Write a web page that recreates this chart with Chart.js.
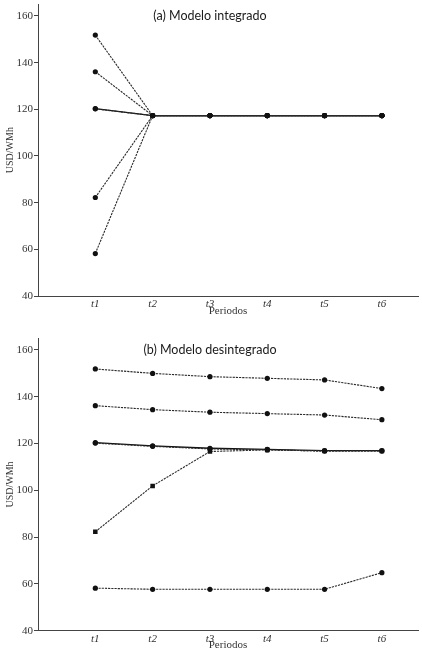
<!DOCTYPE html>
<html><head><meta charset="utf-8">
<script src="https://cdn.jsdelivr.net/npm/chart.js@4.4.1/dist/chart.umd.min.js"></script>
<style>
html,body{margin:0;padding:0;overflow:hidden;background:#fff;width:422px;height:650px}
canvas{position:absolute;left:0}
#ca{top:0;width:422px;height:318px}
#cb{top:325px;width:422px;height:327px}
</style></head>
<body>
<canvas id="ca" width="422" height="318"></canvas>
<canvas id="cb" width="422" height="327"></canvas>
<script>
// ---- data ----
const periods = ['t1','t2','t3','t4','t5','t6'];
const yTicks = [40,60,80,100,120,140,160];
const titleA = '(a) Modelo integrado';
const titleB = '(b) Modelo desintegrado';
const xTitle = 'Periodos';
const yTitle = 'USD/WMh';

// panel (a) Modelo integrado
const a1 = [151.8,117.3,117.3,117.3,117.3,117.3];
const a2 = [136.1,117.3,117.3,117.3,117.3,117.3];
const a3 = [120.3,117.3,117.3,117.3,117.3,117.3];
const a4 = [120.2,117.3,117.3,117.3,117.3,117.3];
const a5 = [82.2,117.3,117.3,117.3,117.3,117.3];
const a6 = [58.2,117.3,117.3,117.3,117.3,117.3];

// panel (b) Modelo desintegrado
const b1 = [151.9,150.0,148.6,147.9,147.2,143.5];
const b2 = [136.2,134.5,133.4,132.8,132.2,130.2];
const b3 = [120.4,119.0,118.0,117.5,117.0,117.0];
const b4 = [120.2,118.8,117.7,117.3,116.8,116.8];
const b5 = [82.3,101.9,116.6,117.3,116.8,116.8];
const b6 = [58.2,57.7,57.7,57.7,57.7,64.8];

// ---- styles ----
const DASH = {borderColor:'#2a2a2a', borderWidth:1.1, borderDash:[2.2,1], pointStyle:'circle', pointRadius:2.6};
const SOLID = {borderColor:'#111', borderWidth:1.4, borderDash:[], pointStyle:'circle', pointRadius:2.6};
const SQUARE = {borderColor:'#2a2a2a', borderWidth:1.1, borderDash:[2.2,1], pointStyle:'rect', pointRadius:3.2};

const seriesA = [[a1,DASH],[a2,DASH],[a4,DASH],[a5,DASH],[a6,DASH],[a3,SOLID]];
const seriesB = [[b1,DASH],[b2,DASH],[b4,DASH],[b5,SQUARE],[b6,DASH],[b3,SOLID]];

const panelTitle = {
  id:'panelTitle',
  afterDatasetsDraw(chart, args, opts){
    const {ctx, scales:{x,y}} = chart;
    ctx.save();
    ctx.font = '12.5px Lato';
    ctx.fillStyle = '#1a1a1a';
    ctx.textAlign = 'center';
    ctx.textBaseline = 'middle';
    ctx.fillText(opts.text, x.getPixelForValue(opts.xv), y.getPixelForValue(opts.yv));
    ctx.restore();
  }
};

function build(id, series, title, xh, padTop){
  const datasets = series.map(([vals, st]) => ({
    data: vals.map((v,i)=>({x:i+1, y:v})),
    borderColor: st.borderColor,
    borderWidth: st.borderWidth,
    borderDash: st.borderDash,
    pointStyle: st.pointStyle,
    pointRadius: st.pointRadius,
    pointBackgroundColor:'#111',
    pointBorderColor:'#111',
    pointBorderWidth:0,
    fill:false,
    tension:0
  }));
  return new Chart(document.getElementById(id), {
    type:'line',
    data:{datasets},
    plugins:[panelTitle],
    options:{
      responsive:false,
      animation:false,
      layout:{padding:{top:padTop,right:4,left:0,bottom:0}},
      plugins:{legend:{display:false},tooltip:{enabled:false},
        panelTitle:{text:title,xv:3,yv:160}},
      scales:{
        x:{type:'linear',min:0,max:6.63,
          afterBuildTicks:s=>{s.ticks = periods.map((p,i)=>({value:i+1}));},
          afterFit:s=>{s.height=xh; s.paddingLeft=0; s.paddingRight=0;},
          ticks:{callback:v=>periods[Math.round(v)-1],autoSkip:false,maxRotation:0,
            font:{family:'Liberation Serif',style:'italic',size:11},color:'#333',padding:1.5},
          grid:{display:false,drawTicks:false},
          border:{display:true,color:'#444',width:1},
          title:{display:true,text:xTitle,color:'#333',padding:0,
            font:{family:'Liberation Serif',size:11}}
        },
        y:{type:'linear',min:40,max:165,
          afterBuildTicks:s=>{s.ticks = yTicks.map(v=>({value:v}));},
          afterFit:s=>{s.width=38; s.paddingTop=0; s.paddingBottom=0;},
          ticks:{font:{family:'Liberation Serif',size:11},color:'#333',padding:1},
          grid:{display:true,drawOnChartArea:false,tickLength:4,color:'#444'},
          border:{display:true,color:'#444',width:1},
          title:{display:true,text:yTitle,color:'#333',padding:{top:4,bottom:0},
            font:{family:'Liberation Serif',size:10}}
        }
      }
    }
  });
}

build('ca', seriesA, titleA, 22, 4.3);
build('cb', seriesB, titleB, 21.3, 13.3);
</script>
</body></html>
